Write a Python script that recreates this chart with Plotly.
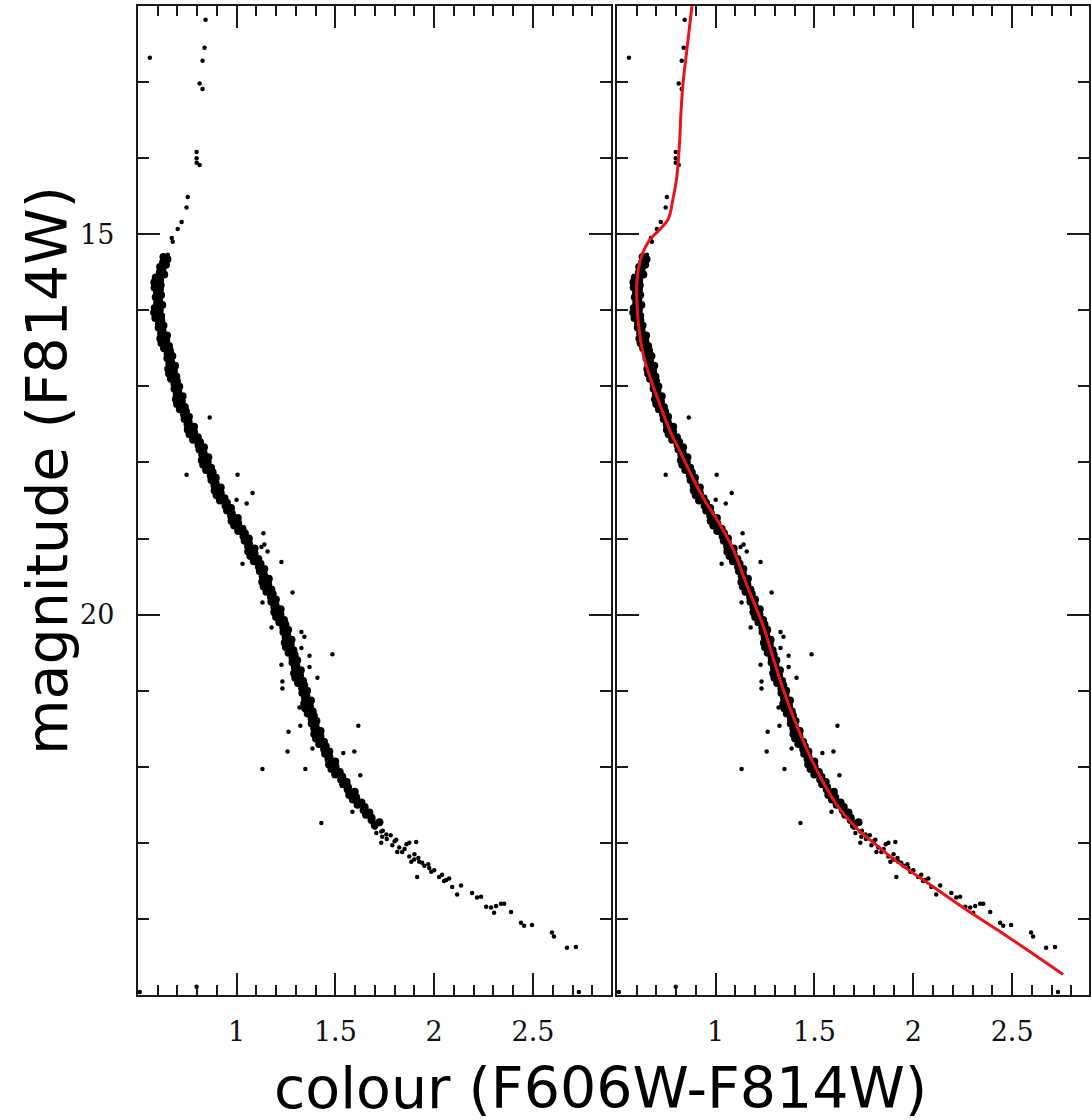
import plotly.graph_objects as go

# ---------------- data (colour = F606W-F814W, magnitude = F814W) ----------------
giant_colour = [0.843, 0.838, 0.828, 0.813, 0.828, 0.798, 0.798, 0.798, 0.813, 0.753,
                0.747, 0.722, 0.702, 0.672, 0.677, 0.652, 0.636]
giant_mag = [12.18, 12.55, 12.72, 13.02, 13.09, 13.92, 14.00, 14.06, 14.09, 14.51,
             14.65, 14.84, 14.93, 15.05, 15.10, 15.27, 15.30]

ms_colour = [
    0.630, 0.650, 0.628, 0.643, 0.613, 0.625, 0.612, 0.634, 0.591, 0.613, 0.584, 0.616, 0.585, 0.612, 0.597,
    0.618, 0.591, 0.608, 0.598, 0.624, 0.586, 0.611, 0.583, 0.618, 0.589, 0.619, 0.607, 0.630, 0.606, 0.625,
    0.618, 0.648, 0.614, 0.644, 0.620, 0.658, 0.633, 0.663, 0.651, 0.675, 0.650, 0.668, 0.660, 0.689, 0.654,
    0.683, 0.658, 0.695, 0.668, 0.698, 0.686, 0.710, 0.686, 0.705, 0.697, 0.727, 0.693, 0.723, 0.699, 0.738,
    0.713, 0.744, 0.734, 0.759, 0.737, 0.758, 0.752, 0.785, 0.753, 0.785, 0.762, 0.804, 0.780, 0.815, 0.807,
    0.835, 0.812, 0.833, 0.826, 0.857, 0.824, 0.854, 0.831, 0.871, 0.846, 0.879, 0.869, 0.895, 0.873, 0.894,
    0.888, 0.920, 0.889, 0.920, 0.899, 0.939, 0.916, 0.951, 0.944, 0.972, 0.952, 0.976, 0.972, 1.006, 0.975,
    1.008, 0.988, 1.030, 1.008, 1.042, 1.035, 1.062, 1.041, 1.063, 1.058, 1.091, 1.059, 1.091, 1.070, 1.110,
    1.087, 1.121, 1.113, 1.140, 1.118, 1.138, 1.132, 1.163, 1.130, 1.160, 1.137, 1.176, 1.151, 1.183, 1.174,
    1.199, 1.176, 1.197, 1.191, 1.223, 1.191, 1.222, 1.200, 1.240, 1.216, 1.247, 1.236, 1.261, 1.237, 1.256,
    1.248, 1.278, 1.244, 1.274, 1.250, 1.288, 1.263, 1.294, 1.283, 1.307, 1.283, 1.302, 1.295, 1.325, 1.291,
    1.321, 1.297, 1.336, 1.311, 1.342, 1.332, 1.357, 1.333, 1.353, 1.346, 1.376, 1.342, 1.371, 1.347, 1.385,
    1.360, 1.391, 1.380, 1.404, 1.380, 1.400, 1.393, 1.425, 1.393, 1.424, 1.402, 1.442, 1.418, 1.451, 1.443,
    1.469, 1.448, 1.470, 1.465, 1.499, 1.468, 1.501, 1.480, 1.522, 1.499, 1.535, 1.529, 1.557, 1.539, 1.564,
    1.562, 1.598, 1.570, 1.605, 1.588, 1.632, 1.612, 1.648, 1.643, 1.672, 1.655, 1.683, 1.683, 1.723, 1.699,
]
ms_mag = [
    15.30, 15.33, 15.37, 15.40, 15.43, 15.47, 15.50, 15.53, 15.57, 15.60, 15.63, 15.67, 15.70, 15.73, 15.77,
    15.80, 15.83, 15.87, 15.90, 15.93, 15.97, 16.00, 16.03, 16.07, 16.10, 16.13, 16.17, 16.20, 16.23, 16.27,
    16.30, 16.33, 16.37, 16.40, 16.43, 16.47, 16.50, 16.53, 16.57, 16.60, 16.63, 16.67, 16.70, 16.73, 16.77,
    16.80, 16.83, 16.87, 16.90, 16.93, 16.97, 17.00, 17.03, 17.07, 17.10, 17.13, 17.17, 17.20, 17.23, 17.27,
    17.30, 17.33, 17.37, 17.40, 17.43, 17.47, 17.50, 17.53, 17.57, 17.60, 17.63, 17.67, 17.70, 17.73, 17.77,
    17.80, 17.83, 17.87, 17.90, 17.93, 17.97, 18.00, 18.03, 18.07, 18.10, 18.13, 18.17, 18.20, 18.23, 18.27,
    18.30, 18.33, 18.37, 18.40, 18.43, 18.47, 18.50, 18.53, 18.57, 18.60, 18.63, 18.67, 18.70, 18.73, 18.77,
    18.80, 18.83, 18.87, 18.90, 18.93, 18.97, 19.00, 19.03, 19.07, 19.10, 19.13, 19.17, 19.20, 19.23, 19.27,
    19.30, 19.33, 19.37, 19.40, 19.43, 19.47, 19.50, 19.53, 19.57, 19.60, 19.63, 19.67, 19.70, 19.73, 19.77,
    19.80, 19.83, 19.87, 19.90, 19.93, 19.97, 20.00, 20.03, 20.07, 20.10, 20.13, 20.17, 20.20, 20.23, 20.27,
    20.30, 20.33, 20.37, 20.40, 20.43, 20.47, 20.50, 20.53, 20.57, 20.60, 20.63, 20.67, 20.70, 20.73, 20.77,
    20.80, 20.83, 20.87, 20.90, 20.93, 20.97, 21.00, 21.03, 21.07, 21.10, 21.13, 21.17, 21.20, 21.23, 21.27,
    21.30, 21.33, 21.37, 21.40, 21.43, 21.47, 21.50, 21.53, 21.57, 21.60, 21.63, 21.67, 21.70, 21.73, 21.77,
    21.80, 21.83, 21.87, 21.90, 21.93, 21.97, 22.00, 22.03, 22.07, 22.10, 22.13, 22.17, 22.20, 22.23, 22.27,
    22.30, 22.33, 22.37, 22.40, 22.43, 22.47, 22.50, 22.53, 22.57, 22.60, 22.63, 22.67, 22.70, 22.73, 22.77,
]

tail_colour = [1.707, 1.737, 1.758, 1.732, 1.788, 1.823, 1.838, 1.813, 1.874, 1.899,
               1.924, 1.939, 1.884, 1.975, 1.985, 2.025, 2.061, 2.076, 2.091, 2.136,
               2.116, 2.192, 2.217, 2.237, 2.263, 2.288, 2.313, 2.338, 2.354, 2.389,
               2.439, 2.455, 2.495, 2.596, 2.606, 2.672, 2.717, 1.732, 1.808, 1.874,
               1.700, 1.740, 1.760, 1.780, 1.800, 1.850, 1.860, 1.900, 1.920, 1.950,
               1.970, 2.000, 2.040, 2.050]
tail_mag = [22.87, 22.92, 22.89, 23.00, 23.03, 23.06, 23.12, 23.12, 23.18, 23.22,
            23.25, 23.26, 23.25, 23.33, 23.38, 23.45, 23.49, 23.47, 23.58, 23.56,
            23.68, 23.66, 23.72, 23.71, 23.84, 23.85, 23.83, 23.80, 23.80, 23.91,
            24.05, 24.09, 24.08, 24.18, 24.23, 24.38, 24.37, 22.85, 22.96, 23.00,
            22.80, 22.84, 22.95, 22.90, 22.98, 23.08, 23.02, 23.15, 23.20, 23.30,
            23.28, 23.36, 23.42, 23.50]

out_colour = [0.864, 0.747, 1.005, 1.081, 1.000, 1.051, 1.136, 1.141, 1.126, 1.157,
              1.030, 1.227, 1.283, 1.131, 1.177, 1.328, 1.343, 1.485, 1.369, 1.328,
              1.227, 1.369, 1.409, 1.232, 1.232, 1.318, 1.616, 1.323, 1.263, 1.384,
              1.258, 1.540, 1.596, 1.131, 1.348, 1.626, 1.586, 1.429, 1.909, 1.914,
              2.303, 0.561, 0.510, 0.798, 2.732]
out_mag = [17.41, 18.16, 18.16, 18.40, 18.49, 18.54, 18.93, 19.08, 19.11, 19.17,
           19.33, 19.31, 19.71, 19.84, 20.17, 20.23, 20.29, 20.52, 20.54, 20.44,
           20.66, 20.69, 20.83, 20.88, 20.97, 21.22, 21.46, 21.46, 21.54, 21.76,
           21.80, 21.82, 21.80, 22.03, 22.03, 22.11, 22.59, 22.74, 22.99, 23.45,
           23.92, 12.68, 24.96, 24.89, 24.96]

iso_colour = [0.880, 0.854, 0.835, 0.823, 0.818, 0.803, 0.783, 0.760, 0.712, 0.667,
              0.632, 0.611, 0.601, 0.601, 0.611, 0.636, 0.672, 0.722, 0.773, 0.823,
              0.889, 0.952, 1.018, 1.085, 1.141, 1.182, 1.242, 1.293, 1.343, 1.404,
              1.470, 1.545, 1.621, 1.722, 1.823, 1.924, 2.091, 2.263, 2.429, 2.596,
              2.758]
iso_mag = [12.00, 12.58, 13.01, 13.46, 13.76, 14.25, 14.55, 14.80, 14.95, 15.07,
           15.24, 15.43, 15.64, 15.86, 16.22, 16.61, 16.91, 17.27, 17.61, 17.87,
           18.23, 18.53, 18.80, 19.12, 19.50, 19.77, 20.16, 20.59, 20.99, 21.42,
           21.82, 22.21, 22.53, 22.83, 23.05, 23.26, 23.56, 23.87, 24.15, 24.44,
           24.73]

x_tick_vals = [1, 1.5, 2, 2.5]
x_tick_text = ["1", "1.5", "2", "2.5"]
y_tick_vals = [15, 20]
y_tick_text = ["15", "20"]

x_title = "colour (F606W-F814W)"
y_title = "magnitude (F814W)"

# ---------------- figure ----------------
W, H = 1091, 1120
ML, MT, MB = 0, 6, 125
plot_h = H - MT - MB

sparse_x = giant_colour + tail_colour + out_colour
sparse_y = giant_mag + tail_mag + out_mag

band_marker = dict(color="black", size=8, symbol="circle", line=dict(width=0))
dot_marker = dict(color="black", size=4.5, symbol="circle", line=dict(width=0))

fig = go.Figure()
for xa, ya in (("x", "y"), ("x2", "y2")):
    fig.add_trace(go.Scatter(x=ms_colour, y=ms_mag, mode="markers", marker=band_marker,
                             xaxis=xa, yaxis=ya, showlegend=False, hoverinfo="skip"))
    fig.add_trace(go.Scatter(x=sparse_x, y=sparse_y, mode="markers", marker=dot_marker,
                             xaxis=xa, yaxis=ya, showlegend=False, hoverinfo="skip"))
fig.add_trace(go.Scatter(x=iso_colour, y=iso_mag, mode="lines",
                         line=dict(color="#e8141a", width=3, shape="spline", smoothing=1.0),
                         xaxis="x2", yaxis="y2", showlegend=False, hoverinfo="skip"))

axis_col = "#1a1a1a"
tick_font = dict(family="DejaVu Serif", size=27, color="#111")

def xaxis(domain, rng, anchor):
    return dict(domain=domain, range=rng, anchor=anchor,
                tickmode="array", tickvals=x_tick_vals, ticktext=x_tick_text,
                ticks="inside", ticklen=22, tickwidth=1.5, tickcolor=axis_col,
                minor=dict(dtick=0.1, tick0=0.5, ticks="inside", ticklen=10,
                           tickwidth=1.5, tickcolor=axis_col, showgrid=False),
                mirror="allticks", showline=True, linecolor=axis_col, linewidth=2,
                showgrid=False, zeroline=False, tickfont=tick_font,
                ticklabelstandoff=12)

def yaxis(anchor, labels):
    return dict(domain=[0, 1], range=[25, 12], anchor=anchor,
                tickmode="array", tickvals=y_tick_vals, ticktext=y_tick_text,
                ticks="inside", ticklen=22, tickwidth=1.5, tickcolor=axis_col,
                minor=dict(dtick=1, tick0=12, ticks="inside", ticklen=11,
                           tickwidth=1.5, tickcolor=axis_col, showgrid=False),
                mirror="allticks", showline=True, linecolor=axis_col, linewidth=2,
                showgrid=False, zeroline=False, tickfont=tick_font,
                showticklabels=labels, ticklabelstandoff=16)

fig.update_layout(
    width=W, height=H,
    margin=dict(l=ML, r=0, t=MT, b=MB, pad=0),
    paper_bgcolor="white", plot_bgcolor="white",
    xaxis=xaxis([138 / W, 612 / W], [0.5, 2.894], "y"),
    yaxis=yaxis("x", True),
    xaxis2=xaxis([618 / W, 1.0], [0.5, 2.889], "y2"),
    yaxis2=yaxis("x2", False),
    annotations=[
        dict(text=x_title, xref="paper", yref="paper",
             x=602 / W, y=(995 - 1088) / plot_h, xanchor="center", yanchor="middle",
             showarrow=False, font=dict(family="DejaVu Sans", size=57, color="black")),
        dict(text=y_title, xref="paper", yref="paper", textangle=-90,
             x=47 / W, y=(995 - 470) / plot_h, xanchor="center", yanchor="middle",
             showarrow=False, font=dict(family="DejaVu Sans", size=57, color="black")),
    ],
)

fig.write_html("out.html")
